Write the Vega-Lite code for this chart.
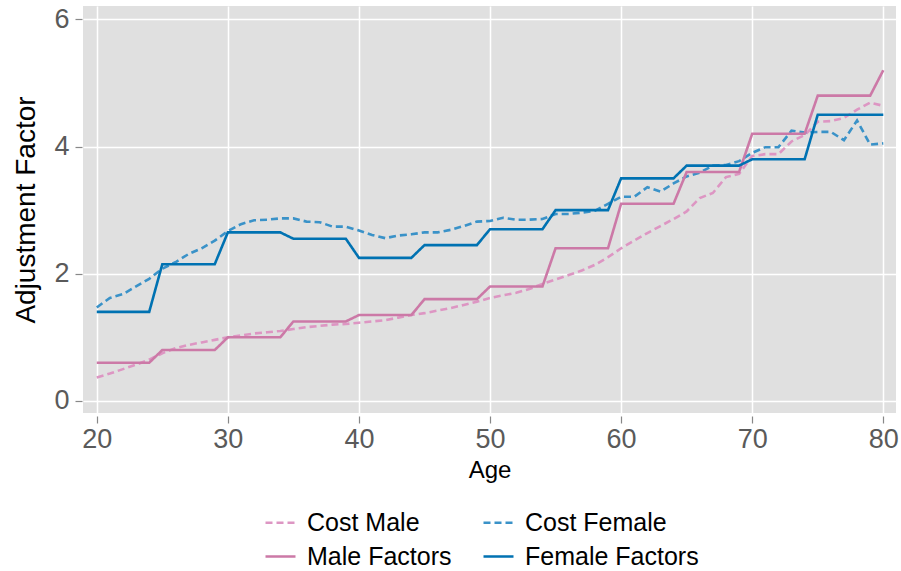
{
  "$schema": "https://vega.github.io/schema/vega-lite/v6.json",
  "width": 813,
  "height": 407,
  "autosize": {"type": "none"},
  "padding": {"left": 83, "top": 6, "right": 5, "bottom": 158},
  "background": "white",
  "config": {
    "view": {"fill": "#e0e0e0", "stroke": null},
    "font": "Liberation Sans"
  },
  "data": {
    "values": [
      {"age": 20, "Cost Male": 0.37, "Cost Female": 1.47, "Male Factors": 0.6, "Female Factors": 1.4},
      {"age": 21, "Cost Male": 0.43, "Cost Female": 1.62, "Male Factors": 0.6, "Female Factors": 1.4},
      {"age": 22, "Cost Male": 0.50, "Cost Female": 1.68, "Male Factors": 0.6, "Female Factors": 1.4},
      {"age": 23, "Cost Male": 0.57, "Cost Female": 1.80, "Male Factors": 0.6, "Female Factors": 1.4},
      {"age": 24, "Cost Male": 0.65, "Cost Female": 1.92, "Male Factors": 0.6, "Female Factors": 1.4},
      {"age": 25, "Cost Male": 0.75, "Cost Female": 2.08, "Male Factors": 0.8, "Female Factors": 2.15},
      {"age": 26, "Cost Male": 0.83, "Cost Female": 2.18, "Male Factors": 0.8, "Female Factors": 2.15},
      {"age": 27, "Cost Male": 0.88, "Cost Female": 2.31, "Male Factors": 0.8, "Female Factors": 2.15},
      {"age": 28, "Cost Male": 0.92, "Cost Female": 2.40, "Male Factors": 0.8, "Female Factors": 2.15},
      {"age": 29, "Cost Male": 0.96, "Cost Female": 2.52, "Male Factors": 0.8, "Female Factors": 2.15},
      {"age": 30, "Cost Male": 1.00, "Cost Female": 2.67, "Male Factors": 1.0, "Female Factors": 2.65},
      {"age": 31, "Cost Male": 1.03, "Cost Female": 2.78, "Male Factors": 1.0, "Female Factors": 2.65},
      {"age": 32, "Cost Male": 1.06, "Cost Female": 2.84, "Male Factors": 1.0, "Female Factors": 2.65},
      {"age": 33, "Cost Male": 1.08, "Cost Female": 2.85, "Male Factors": 1.0, "Female Factors": 2.65},
      {"age": 34, "Cost Male": 1.10, "Cost Female": 2.87, "Male Factors": 1.0, "Female Factors": 2.65},
      {"age": 35, "Cost Male": 1.13, "Cost Female": 2.87, "Male Factors": 1.25, "Female Factors": 2.55},
      {"age": 36, "Cost Male": 1.16, "Cost Female": 2.82, "Male Factors": 1.25, "Female Factors": 2.55},
      {"age": 37, "Cost Male": 1.18, "Cost Female": 2.81, "Male Factors": 1.25, "Female Factors": 2.55},
      {"age": 38, "Cost Male": 1.20, "Cost Female": 2.74, "Male Factors": 1.25, "Female Factors": 2.55},
      {"age": 39, "Cost Male": 1.21, "Cost Female": 2.74, "Male Factors": 1.25, "Female Factors": 2.55},
      {"age": 40, "Cost Male": 1.23, "Cost Female": 2.68, "Male Factors": 1.35, "Female Factors": 2.25},
      {"age": 41, "Cost Male": 1.25, "Cost Female": 2.61, "Male Factors": 1.35, "Female Factors": 2.25},
      {"age": 42, "Cost Male": 1.27, "Cost Female": 2.56, "Male Factors": 1.35, "Female Factors": 2.25},
      {"age": 43, "Cost Male": 1.31, "Cost Female": 2.60, "Male Factors": 1.35, "Female Factors": 2.25},
      {"age": 44, "Cost Male": 1.35, "Cost Female": 2.62, "Male Factors": 1.35, "Female Factors": 2.25},
      {"age": 45, "Cost Male": 1.38, "Cost Female": 2.65, "Male Factors": 1.6, "Female Factors": 2.45},
      {"age": 46, "Cost Male": 1.42, "Cost Female": 2.65, "Male Factors": 1.6, "Female Factors": 2.45},
      {"age": 47, "Cost Male": 1.46, "Cost Female": 2.69, "Male Factors": 1.6, "Female Factors": 2.45},
      {"age": 48, "Cost Male": 1.51, "Cost Female": 2.75, "Male Factors": 1.6, "Female Factors": 2.45},
      {"age": 49, "Cost Male": 1.56, "Cost Female": 2.82, "Male Factors": 1.6, "Female Factors": 2.45},
      {"age": 50, "Cost Male": 1.62, "Cost Female": 2.83, "Male Factors": 1.8, "Female Factors": 2.7},
      {"age": 51, "Cost Male": 1.66, "Cost Female": 2.88, "Male Factors": 1.8, "Female Factors": 2.7},
      {"age": 52, "Cost Male": 1.70, "Cost Female": 2.85, "Male Factors": 1.8, "Female Factors": 2.7},
      {"age": 53, "Cost Male": 1.76, "Cost Female": 2.85, "Male Factors": 1.8, "Female Factors": 2.7},
      {"age": 54, "Cost Male": 1.84, "Cost Female": 2.86, "Male Factors": 1.8, "Female Factors": 2.7},
      {"age": 55, "Cost Male": 1.91, "Cost Female": 2.94, "Male Factors": 2.4, "Female Factors": 3.0},
      {"age": 56, "Cost Male": 1.98, "Cost Female": 2.94, "Male Factors": 2.4, "Female Factors": 3.0},
      {"age": 57, "Cost Male": 2.05, "Cost Female": 2.96, "Male Factors": 2.4, "Female Factors": 3.0},
      {"age": 58, "Cost Male": 2.14, "Cost Female": 2.99, "Male Factors": 2.4, "Female Factors": 3.0},
      {"age": 59, "Cost Male": 2.26, "Cost Female": 3.10, "Male Factors": 2.4, "Female Factors": 3.0},
      {"age": 60, "Cost Male": 2.40, "Cost Female": 3.21, "Male Factors": 3.1, "Female Factors": 3.5},
      {"age": 61, "Cost Male": 2.52, "Cost Female": 3.21, "Male Factors": 3.1, "Female Factors": 3.5},
      {"age": 62, "Cost Male": 2.64, "Cost Female": 3.36, "Male Factors": 3.1, "Female Factors": 3.5},
      {"age": 63, "Cost Male": 2.75, "Cost Female": 3.29, "Male Factors": 3.1, "Female Factors": 3.5},
      {"age": 64, "Cost Male": 2.86, "Cost Female": 3.42, "Male Factors": 3.1, "Female Factors": 3.5},
      {"age": 65, "Cost Male": 2.98, "Cost Female": 3.53, "Male Factors": 3.6, "Female Factors": 3.7},
      {"age": 66, "Cost Male": 3.19, "Cost Female": 3.59, "Male Factors": 3.6, "Female Factors": 3.7},
      {"age": 67, "Cost Male": 3.27, "Cost Female": 3.70, "Male Factors": 3.6, "Female Factors": 3.7},
      {"age": 68, "Cost Male": 3.52, "Cost Female": 3.71, "Male Factors": 3.6, "Female Factors": 3.7},
      {"age": 69, "Cost Male": 3.57, "Cost Female": 3.77, "Male Factors": 3.6, "Female Factors": 3.7},
      {"age": 70, "Cost Male": 3.85, "Cost Female": 3.90, "Male Factors": 4.2, "Female Factors": 3.8},
      {"age": 71, "Cost Male": 3.88, "Cost Female": 3.99, "Male Factors": 4.2, "Female Factors": 3.8},
      {"age": 72, "Cost Male": 3.88, "Cost Female": 3.99, "Male Factors": 4.2, "Female Factors": 3.8},
      {"age": 73, "Cost Male": 4.08, "Cost Female": 4.25, "Male Factors": 4.2, "Female Factors": 3.8},
      {"age": 74, "Cost Male": 4.18, "Cost Female": 4.22, "Male Factors": 4.2, "Female Factors": 3.8},
      {"age": 75, "Cost Male": 4.39, "Cost Female": 4.23, "Male Factors": 4.8, "Female Factors": 4.5},
      {"age": 76, "Cost Male": 4.40, "Cost Female": 4.23, "Male Factors": 4.8, "Female Factors": 4.5},
      {"age": 77, "Cost Male": 4.45, "Cost Female": 4.10, "Male Factors": 4.8, "Female Factors": 4.5},
      {"age": 78, "Cost Male": 4.58, "Cost Female": 4.41, "Male Factors": 4.8, "Female Factors": 4.5},
      {"age": 79, "Cost Male": 4.69, "Cost Female": 4.03, "Male Factors": 4.8, "Female Factors": 4.5},
      {"age": 80, "Cost Male": 4.64, "Cost Female": 4.05, "Male Factors": 5.2, "Female Factors": 4.5}
    ]
  },
  "transform": [
    {"fold": ["Cost Male", "Cost Female", "Male Factors", "Female Factors"], "as": ["series", "value"]}
  ],
  "mark": {"type": "line", "strokeWidth": 2.6, "clip": true},
  "encoding": {
    "x": {
      "field": "age", "type": "quantitative",
      "scale": {"domain": [18.95, 80.97], "nice": false, "zero": false},
      "axis": {
        "title": "Age", "values": [20, 30, 40, 50, 60, 70, 80],
        "domain": false, "grid": true, "gridColor": "white", "gridWidth": 1.5,
        "tickColor": "#888888", "tickSize": 7, "tickWidth": 1.2, "offset": 3,
        "labelFontSize": 27, "labelColor": "#5a5a5a", "labelPadding": 3,
        "titleFontSize": 24, "titleColor": "black", "titleFontWeight": "normal", "titlePadding": 6
      }
    },
    "y": {
      "field": "value", "type": "quantitative",
      "scale": {"domain": [-0.19, 6.21], "nice": false, "zero": false},
      "axis": {
        "title": "Adjustment Factor", "values": [0, 2, 4, 6],
        "domain": false, "grid": true, "gridColor": "white", "gridWidth": 1.5,
        "tickColor": "#888888", "tickSize": 7, "tickWidth": 1.2, "offset": 1,
        "labelFontSize": 27, "labelColor": "#5a5a5a", "labelPadding": 6,
        "titleFontSize": 28, "titleColor": "black", "titleFontWeight": "normal", "titlePadding": 13
      }
    },
    "color": {
      "field": "series", "type": "nominal",
      "scale": {
        "domain": ["Cost Male", "Cost Female", "Male Factors", "Female Factors"],
        "range": ["#dd96c3", "#3a92c8", "#cc79a7", "#0072b2"]
      },
      "legend": {
        "title": null, "orient": "none", "legendX": 181, "legendY": 500,
        "direction": "horizontal", "columns": 2, "columnPadding": 26, "rowPadding": 4,
        "symbolType": "stroke", "symbolSize": 900, "symbolStrokeWidth": 2.6,
        "labelFontSize": 25, "labelColor": "black", "labelOffset": 10, "labelLimit": 300
      }
    },
    "strokeDash": {
      "field": "series", "type": "nominal",
      "scale": {
        "domain": ["Cost Male", "Cost Female", "Male Factors", "Female Factors"],
        "range": [[7, 4], [7, 4], [1, 0], [1, 0]]
      },
      "legend": {
        "title": null, "orient": "none", "legendX": 181, "legendY": 500,
        "direction": "horizontal", "columns": 2, "columnPadding": 26, "rowPadding": 4,
        "symbolType": "stroke", "symbolSize": 900, "symbolStrokeWidth": 2.6,
        "labelFontSize": 25, "labelColor": "black", "labelOffset": 10, "labelLimit": 300
      }
    }
  }
}
